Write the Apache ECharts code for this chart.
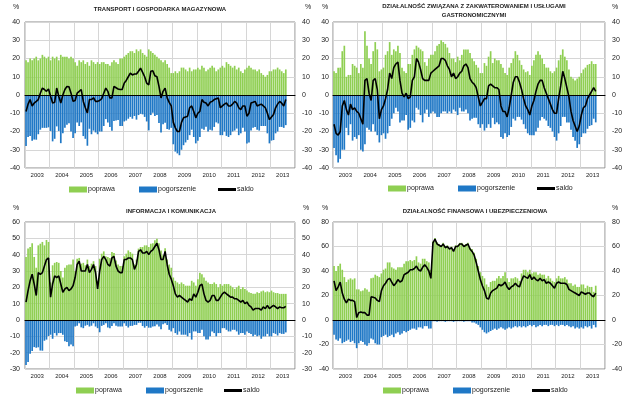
<!DOCTYPE html>
<html><head><meta charset="utf-8">
<script src="https://cdn.jsdelivr.net/npm/echarts@6/dist/echarts.min.js"></script>
<style>html,body{margin:0;padding:0;background:#fff}#c{width:640px;height:406px}</style>
</head><body><div id="c"></div>
<script>
const YEARS = ['2003','2004','2005','2006','2007','2008','2009','2010','2011','2012','2013'];
const SERIES_NAMES = ['poprawa','pogorszenie','saldo'];

const TRANSPORT_POPRAWA = [
19,18,20,19,20,21,19,20,22,21,20,21,
19,21,20,21,19,22,21,21,21,20,21,20,
18,16,19,18,19,17,18,16,19,18,17,18,
17,18,18,17,17,16,18,19,18,17,20,20,
21,22,23,24,24,23,25,24,25,23,22,21,
25,24,23,22,21,20,19,18,19,17,15,12,
12,13,12,13,15,15,14,13,15,13,14,14,
15,14,16,15,13,14,15,16,15,13,14,15,
16,15,18,17,16,15,16,14,15,13,12,14,
15,16,15,14,14,13,14,12,11,10,11,13,
13,14,14,15,14,13,12,14];
const TRANSPORT_POGORSZENIE = [
-28,-23,-22.5,-25,-24.4,-24.5,-21.5,-19,-18,-18,-18,-17.7,
-19.7,-25.4,-24,-17.2,-19.7,-26.4,-21,-18,-16.3,-15.5,-20,-23.5,
-21,-15,-17,-15,-22.5,-24,-27.8,-18.5,-21.5,-19.5,-20.5,-21.5,
-20,-20,-17,-13.2,-15,-17.6,-19.6,-14.3,-14,-13.7,-17,-17,
-14.5,-14,-13,-12,-13,-11.5,-13.5,-11,-10.3,-10.6,-12,-14.5,
-19.4,-11,-9.7,-11.5,-11,-15.3,-20.6,-16,-15.2,-18.6,-19,-18,
-27,-31,-32,-33,-30,-27.5,-26,-24.6,-22,-19,-23,-26.5,
-25,-23,-18.5,-19,-17.4,-20,-19,-19.5,-17.5,-15,-15.6,-22,
-22,-20,-22.4,-23,-22,-20,-19.5,-18.4,-22,-21,-18,-20,
-26.6,-26,-19.4,-18,-17.5,-19,-19.5,-17,-17,-17,-21,-26.5,
-25,-24.7,-21,-20,-17.5,-17.5,-18,-16.5];
const TRANSPORT_SALDO = [
-9,-5,-2.5,-6,-4.4,-3.5,-2.5,1,3.8,3,2,3.3,
-0.7,-4.4,-4,3.8,-0.7,-4.4,0,3,4.7,4.5,1,-3.5,
-3,1,2,3,-3.5,-7,-9.8,-2.5,-2.5,-1.5,-3.5,-3.5,
-3,-2,1,3.8,2,-1.6,-1.6,4.7,4,3.3,3,3,
6.5,8,10,12,11,11.5,11.5,13,14.7,12.4,10,6.5,
5.6,13,13.3,10.5,10,4.7,-1.6,2,3.8,-1.6,-4,-6,
-15,-18,-20,-20,-15,-12.5,-12,-11.6,-7,-6,-9,-12.5,
-10,-9,-2.5,-4,-4.4,-6,-4,-3.5,-2.5,-2,-1.6,-7,
-6,-5,-4.4,-6,-6,-5,-3.5,-4.4,-7,-8,-6,-6,
-11.6,-10,-4.4,-4,-3.5,-6,-5.5,-5,-6,-7,-10,-13.5,
-12,-10.7,-7,-5,-3.5,-4.5,-6,-2.5];

const HOTEL_POPRAWA = [
13,12,15,15,24,27,10,11,11,17,16,15,
12,17,15,35,27,20,17,24,29,25,13,14,
15,22,24,29,22,25,24,27,23,15,13,12,
17,17,22,25,27,26,25,24,18,16,20,22,
22,24,27,28,30,29,28,26,23,20,20,18,
21,19,22,25,25,25,23,20,18.5,16.5,15,12,
12,17.5,16,21,24,17.5,20,19,19,17,15,12,
11,15,17.5,20,24,22,19,16.5,14,12.5,13,11,
16,19,22,24,22,20,17,15,15,13,12,13,
15,19,22,25,21,19,14,10,9,8,9,10,
12,14,15,16.5,17,18.5,17,17];
const HOTEL_POGORSZENIE = [
-29,-33,-37,-35,-30,-30,-18,-22,-16,-25,-23,-24,
-22,-30,-31,-27,-18,-19,-20,-16,-20,-22,-26,-22,
-21,-24,-21,-17,-13,-10,-7,-9,-15,-14,-14,-11,
-19,-18,-14,-15,-7,-8,-11,-15,-10,-8,-12,-10,
-9,-10,-12,-12,-10,-9,-9,-10,-9,-10,-8,-9,
-11,-7,-9,-9,-8,-10,-14,-13,-12.5,-12.5,-16,-18,
-16,-19.5,-18,-16,-18,-12.5,-16,-15,-16,-23,-24,-21,
-23,-22,-17.5,-13,-14,-12,-12,-13.5,-16,-18.5,-21,-22,
-22,-22,-20,-18,-14,-12,-13,-14,-17,-18,-20,-23,
-25,-21,-17,-12,-12,-15,-15,-19,-23,-25,-29,-27,
-23,-21,-21,-18.5,-17,-16.5,-13,-15];
const HOTEL_SALDO = [
-16,-21,-22,-20,-6,-3,-8,-11,-5,-8,-7,-9,
-10,-13,-16,8,9,1,-3,8,9,3,-13,-8,
-6,-2,3,12,9,15,17,18,8,1,-1,1,
-2,-1,8,10,20,18,14,9,8,8,8,12,
13,14,15,16,20,20,19,16,14,10,12,9,
10,12,13,16,17,15,9,7,6,4,-1,-6,
-4,-2,-2,5,6,5,4,4,3,-6,-9,-9,
-12,-7,0,7,10,10,7,3,-2,-6,-8,-11,
-6,-3,2,6,8,8,4,1,-2,-5,-8,-10,
-10,-2,5,13,9,4,-1,-9,-14,-17,-20,-17,
-11,-7,-6,-2,0,2,4,2];

const INFO_POPRAWA = [
38.6,43.7,44.7,47,38.6,32,45.7,46.7,47.8,45.7,49,47.8,
23,33.5,35,35.5,35,30,26,32,33.5,34,34,37,
30,37.5,38,34.5,35,33.5,37,33,34.5,36,33,24,
37.5,40.6,42,39,38.6,38,41.6,41,36.5,34,33,33,
39,40.6,42.6,41.6,40.6,34,37,43.7,44.7,44.7,45.7,45.7,
44.7,46.7,47,48.8,49.8,47,42.6,39.6,44,37,34,32,
26,24,23,22,23,22,21,21,21,24,23,21,
25,29,28,26,24,23,22,22,23,22,20,22,
21,22,22,22,21,20,19,20,21,19,20,19,
18,17,16.5,16,16,17,16.5,17.5,18,17,17.5,17,
18,17,16.5,16.5,16,16,16,16];
const INFO_POGORSZENIE = [
-27.6,-25.7,-20.7,-19,-16.6,-17,-16.7,-18.7,-18.8,-12.7,-12,-9.8,
-9,-11.5,-8,-9.5,-8,-8,-9,-13,-13.5,-16,-15,-16,
-4,-3.5,-2,-4.5,-5,-3.5,-3,-4,-3.5,-2,-4,-5,
-7.5,-3.6,-3,-2,-4.6,-5,-3.6,-2,-3.5,-4,-4,-4,
-2,-3.6,-4.6,-3.6,-3.6,-3,-3,-1.7,-1.7,-3.7,-4.7,-3.7,
-4.7,-4.7,-4,-3.8,-2.8,-4,-5.6,-2.6,-2,-3,-6,-7,
-5,-8,-9,-7,-9,-9,-9,-10,-8,-12,-7,-7,
-8,-8,-6,-10,-12,-12,-10,-7,-8,-10,-8,-8,
-5,-5,-6,-7,-7,-6,-6,-7,-9,-8,-8,-9,
-7,-8,-8.5,-10,-9,-10,-9.5,-11.5,-10,-10,-8.5,-10,
-10,-8,-8.5,-9.5,-8,-8.5,-8.5,-7.6];
const INFO_SALDO = [
11,18,24,28,22,15,29,28,29,33,37,38,
14,22,27,26,27,22,17,19,20,18,19,21,
26,34,36,30,30,30,34,29,31,34,29,19,
30,37,39,37,34,33,38,39,33,30,29,29,
37,37,38,38,37,31,34,42,43,41,41,42,
40,42,43,45,47,43,37,37,42,34,28,25,
21,16,14,15,14,13,12,11,13,12,16,14,
17,21,22,16,12,11,12,15,15,12,12,14,
16,17,16,15,14,14,13,13,12,11,12,10,
11,9,8,6,7,7,7,6,8,7,9,7,
8,9,8,7,8,7.5,7.5,8.4];

const FIN_POPRAWA = [
44,40,44,46,41,35,31,33,34,33,34,25,
25,23.5,24,26,25,23,34,34.5,37,36,35,38,
41,42,47,47,43,42,41,43,43,43,46,48,
48,49,48,49,52,47,46,50,50,48,47,41,
64,67,63.5,62,61,63,60.5,61,59,60,57.5,61,
61,63,63,61.5,62,63,59,58,55,50,44,39,
36,34,29,27,31,32,32,34,36,34,36,39,
34,31,34,34,35,34,32,38,41,41,39,41,
38,39,39,37,38,37,37,34,36,34,32,31,
34,36,34,34,35,33,30,30,28,29,27,27,
29,29,26,28,27,27,23,28];
const FIN_POGORSZENIE = [
-12,-16,-17,-15,-19,-18,-17,-16,-18,-17,-19,-23,
-19,-17,-18,-20,-21,-19,-15,-16,-19,-20,-20,-14,
-13,-12,-14,-13,-12,-14,-11,-10,-12,-11,-9,-10,
-9,-8,-7,-7,-8,-6,-6,-7,-5,-5,-7,-7,
-1,-1,-1.5,-1,-1,-1,-1.5,-1,-1,-1,-1.5,-1,
-1,-1,-1,-1.5,-1,-1,-1,-2,-2,-3,-4,-6,
-8,-10,-11,-10,-9,-8,-7,-8,-7,-6,-7,-8,
-7,-6,-7,-6,-5,-6,-5,-6,-5,-6,-5,-4,
-5,-4,-6,-5,-4,-5,-4,-4,-5,-4,-4,-5,
-4,-5,-4,-4,-5,-4,-5,-6,-5,-7,-6,-7,
-6,-7,-5,-6,-5,-7,-4,-6];
const FIN_SALDO = [
32,24,27,31,22,17,14,17,16,16,15,2,
6,6.5,6,6,4,4,19,18.5,18,16,15,24,
28,30,33,34,31,28,30,33,31,32,37,38,
39,41,41,42,44,41,40,43,45,43,40,34,
63,66,62,61,60,62,59,60,58,59,56,60,
60,62,62,60,61,62,58,56,53,47,40,33,
28,24,18,17,22,24,25,26,29,28,29,31,
27,25,27,28,30,28,27,32,36,35,34,37,
33,35,33,32,34,32,33,30,31,30,28,26,
30,31,30,30,30,29,25,24,23,22,21,20,
23,22,21,22,22,20,19,22];

// monthly categories Jan 2003 - Dec 2013
const MONTHS = [];
YEARS.forEach(y => { for (let m = 1; m <= 12; m++) MONTHS.push(y + '-' + m); });

const FONT = 'Liberation Sans, Arial, sans-serif';
const GREEN = '#8fcf52', BLUE = '#1f78c6';

const panels = [
  {grid:{left:25, top:22, width:270, height:146}, min:-40, max:40, interval:10,
   title:['TRANSPORT I GOSPODARKA MAGAZYNOWA'], tx:160, ty:[9],
   pct:[[16,7],[308,7]], leg:[69,139,218], ly:191, lr:7, ll:5,
   data:[TRANSPORT_POPRAWA, TRANSPORT_POGORSZENIE, TRANSPORT_SALDO]},
  {grid:{left:333, top:22, width:272, height:146}, min:-40, max:40, interval:10,
   title:['DZIAŁALNOŚĆ ZWIĄZANA Z ZAKWATEROWANIEM I USŁUGAMI','GASTRONOMICZNYMI'], tx:474, ty:[6,15],
   pct:[[325,7],[615,7]], leg:[388,458,537], ly:190, lr:7, ll:4,
   data:[HOTEL_POPRAWA, HOTEL_POGORSZENIE, HOTEL_SALDO]},
  {grid:{left:25, top:222, width:270, height:147}, min:-30, max:60, interval:10,
   title:['INFORMACJA I KOMUNIKACJA'], tx:171, ty:[211],
   pct:[[16,208],[306,208]], leg:[76,146,224], ly:392, lr:7, ll:5,
   data:[INFO_POPRAWA, INFO_POGORSZENIE, INFO_SALDO]},
  {grid:{left:333, top:222, width:272, height:147}, min:-40, max:80, interval:20,
   title:['DZIAŁALNOŚĆ FINANSOWA I UBEZPIECZENIOWA'], tx:475, ty:[211],
   pct:[[325,208],[615,208]], leg:[383,453,532], ly:392, lr:7, ll:4,
   data:[FIN_POPRAWA, FIN_POGORSZENIE, FIN_SALDO]}
];

const option = {
  animation:false,
  backgroundColor:'#fff',
  textStyle:{fontFamily:FONT},
  grid:[], xAxis:[], yAxis:[], series:[], legend:[], graphic:[]
};

const axisLabelStyle = {fontSize:7, color:'#222', fontFamily:FONT};

panels.forEach((p, i) => {
  option.grid.push(Object.assign({show:true, borderColor:'#8a8a8a', borderWidth:1, backgroundColor:'rgba(0,0,0,0)'}, p.grid));
  const xm = option.xAxis.length;
  option.xAxis.push({type:'category', gridIndex:i, data:MONTHS, position:'bottom',
    axisLine:{show:true, onZero:true, lineStyle:{color:'#000', width:1}},
    axisTick:{show:false}, axisLabel:{show:false}, splitLine:{show:false}, z:4});
  option.xAxis.push({type:'category', gridIndex:i, data:YEARS, position:'bottom',
    axisLine:{show:false, onZero:false}, axisTick:{show:false},
    axisLabel:{fontSize:6, color:'#222', margin:4, fontFamily:FONT},
    splitLine:{show:true, lineStyle:{color:'#d6d6d6', width:1}}});
  const yl = option.yAxis.length;
  option.yAxis.push({type:'value', gridIndex:i, min:p.min, max:p.max, interval:p.interval, position:'left',
    axisLine:{show:false}, axisTick:{show:false},
    axisLabel:Object.assign({margin:p.ll}, axisLabelStyle),
    splitLine:{show:true, lineStyle:{color:'#d6d6d6', width:1}}});
  option.yAxis.push({type:'value', gridIndex:i, min:p.min, max:p.max, interval:p.interval, position:'right',
    axisLine:{show:false}, axisTick:{show:false},
    axisLabel:Object.assign({margin:p.lr}, axisLabelStyle),
    splitLine:{show:false}});
  option.series.push({name:SERIES_NAMES[0], type:'bar', xAxisIndex:xm, yAxisIndex:yl, data:p.data[0],
    barCategoryGap:'18%', barGap:'-100%', itemStyle:{color:GREEN}, z:2});
  option.series.push({name:SERIES_NAMES[1], type:'bar', xAxisIndex:xm, yAxisIndex:yl, data:p.data[1],
    barCategoryGap:'18%', barGap:'-100%', itemStyle:{color:BLUE}, z:2});
  option.series.push({name:SERIES_NAMES[2], type:'line', xAxisIndex:xm, yAxisIndex:yl, data:p.data[2],
    symbol:'none', lineStyle:{color:'#000', width:1.6}, itemStyle:{color:'#000'}, z:6});
  const icons = [{icon:'rect', h:6},{icon:'rect', h:6},{icon:'rect', h:3}];
  SERIES_NAMES.forEach((n, j) => {
    option.legend.push({data:[n], left:p.leg[j], top:p.ly - 5, icon:icons[j].icon,
      itemWidth:18, itemHeight:icons[j].h, padding:0, selectedMode:false,
      textStyle:{fontSize:7, color:'#222', fontFamily:FONT, padding:[0,0,0,-4]}});
  });
  p.title.forEach((t, k) => {
    option.graphic.push({type:'text', x:p.tx, y:p.ty[k],
      style:{text:t, font:'bold 6px ' + FONT, fill:'#222', textAlign:'center', textVerticalAlign:'middle'}});
  });
  p.pct.forEach(pt => {
    option.graphic.push({type:'text', x:pt[0], y:pt[1],
      style:{text:'%', font:'7px ' + FONT, fill:'#222', textAlign:'center', textVerticalAlign:'middle'}});
  });
});

const chart = echarts.init(document.getElementById('c'), null, {renderer:'canvas'});
chart.setOption(option);
</script></body></html>
